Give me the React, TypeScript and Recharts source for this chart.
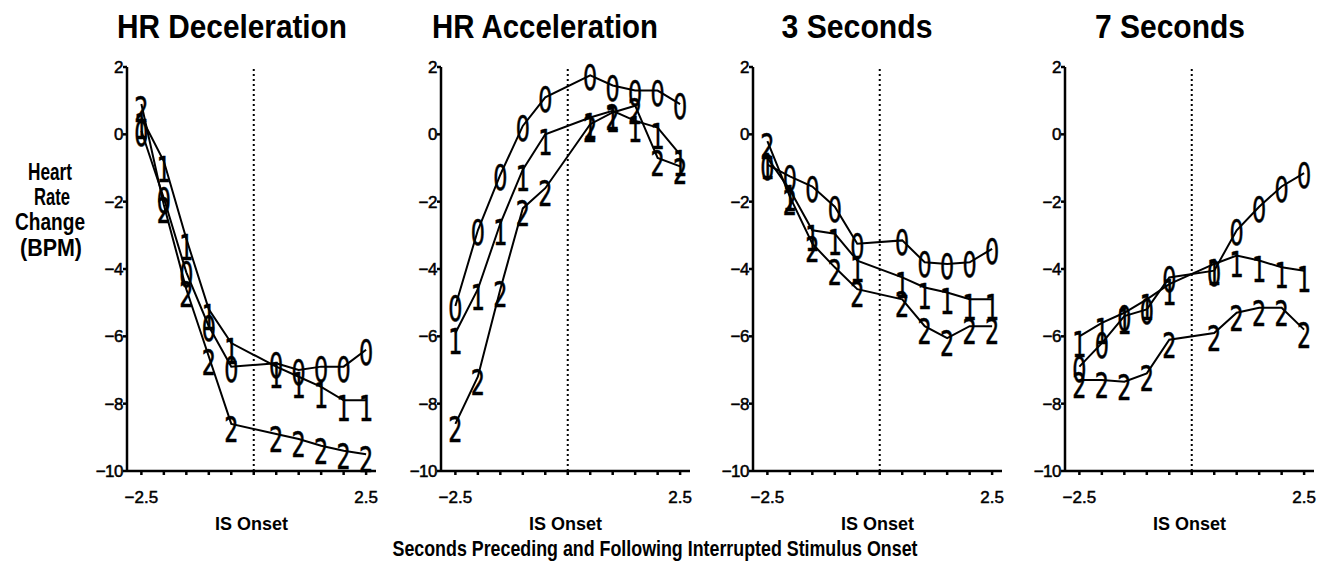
import { LineChart, Line, XAxis, YAxis, ReferenceLine } from 'recharts';

// time points (seconds around interrupted-stimulus onset)
const seconds = [-2.5, -2, -1.5, -1, -0.5, 0.5, 1, 1.5, 2, 2.5];
const xTicks = [-2.5, -2, -1.5, -1, -0.5, 0, 0.5, 1, 1.5, 2, 2.5];
const yTicks = [-10, -8, -6, -4, -2, 0, 2];

const panelTitles = ['HR Deceleration', 'HR Acceleration', '3 Seconds', '7 Seconds'];
const groupDigits = ['0', '1', '2'];

// HR Deceleration
const decel0 = [0.1, -1.9, -4.1, -5.7, -6.9, -6.8, -7.0, -6.9, -6.9, -6.4];
const decel1 = [0.5, -0.8, -3.1, -5.2, -6.2, -6.9, -7.2, -7.5, -7.9, -7.9];
const decel2 = [0.9, -2.1, -4.6, -6.6, -8.6, -8.9, -9.05, -9.25, -9.4, -9.5];

// HR Acceleration
const accel0 = [-5.1, -2.85, -1.2, 0.25, 1.1, 1.75, 1.45, 1.3, 1.3, 0.9];
const accel1 = [-5.9, -4.6, -2.65, -1.05, 0.0, 0.5, 0.7, 0.4, 0.2, -0.6];
const accel2 = [-8.6, -7.2, -4.6, -2.2, -1.6, 0.3, 0.65, 0.85, -0.7, -0.95];

// 3 Seconds
const sec3_0 = [-0.9, -1.25, -1.55, -2.15, -3.25, -3.15, -3.8, -3.85, -3.8, -3.4];
const sec3_1 = [-0.7, -1.65, -2.85, -2.95, -3.75, -4.25, -4.55, -4.7, -4.9, -4.9];
const sec3_2 = [-0.2, -1.85, -3.25, -3.95, -4.6, -4.9, -5.7, -6.05, -5.7, -5.7];

// 7 Seconds
const sec7_0 = [-6.9, -6.2, -5.4, -5.2, -4.25, -4.05, -2.85, -2.15, -1.55, -1.15];
const sec7_1 = [-6.0, -5.6, -5.3, -4.9, -4.45, -3.85, -3.6, -3.75, -3.95, -4.05];
const sec7_2 = [-7.3, -7.3, -7.35, -7.1, -6.1, -5.9, -5.3, -5.15, -5.15, -5.8];

const panelSeries = [
  [decel0, decel1, decel2],
  [accel0, accel1, accel2],
  [sec3_0, sec3_1, sec3_2],
  [sec7_0, sec7_1, sec7_2],
];

const FONT = '"Liberation Sans", Arial, sans-serif';

// layout of each panel on the page
const panelLeft = [67, 381, 693, 1005];
const titleX = [232, 545, 857, 1170];
const titleWidth = [230, 226, 151, 150];

const buildRows = (s: number[][]) =>
  seconds.map((t, i) => ({ t, g0: s[0][i], g1: s[1][i], g2: s[2][i] }));

const baselineShift: Record<string, number> = { '0': 15, '1': 21, '2': 18 };

const digitDot = (digit: string) => (props: any) => {
  const { cx, cy, index } = props;
  if (cx == null || cy == null) return <g key={`d${digit}-${index}`} />;
  return (
    <g key={`d${digit}-${index}`} transform={`translate(${cx},${cy}) scale(0.62,1)`}>
      <text x={0} y={baselineShift[digit]} textAnchor="middle" fontFamily='"DejaVu Sans", sans-serif' fontSize={36} fill="#000" stroke="#000" strokeWidth={0.6}>
        {digit}
      </text>
    </g>
  );
};

const fmtX = (v: number) => (v === -2.5 ? '\u22122.5' : v === 2.5 ? '2.5' : '');
const fmtY = (v: number) => (v < 0 ? `\u2212${Math.abs(v)}` : `${v}`);

const XTick = (props: any) => {
  const { x, y, payload } = props;
  return (
    <text x={x} y={y} dy="0.71em" textAnchor="middle" fontFamily={FONT} fontSize={17} fill="#000" stroke="#000" strokeWidth={0.5}>
      {fmtX(payload.value)}
    </text>
  );
};

const YTick = (props: any) => {
  const { x, y, payload } = props;
  return (
    <text x={x} y={y} dy="0.36em" textAnchor="end" fontFamily={FONT} fontSize={17} fill="#000" stroke="#000" strokeWidth={0.5} letterSpacing={-0.5}>
      {fmtY(payload.value)}
    </text>
  );
};

function Panel({ index }: { index: number }) {
  const rows = buildRows(panelSeries[index]);
  return (
    <div style={{ position: 'absolute', left: panelLeft[index], top: 0 }}>
      <LineChart width={321} height={541} data={rows} margin={{ top: 67, right: 12, bottom: 0, left: 0 }}>
        <XAxis
          dataKey="t"
          type="number"
          domain={[-2.82, 2.72]}
          ticks={xTicks}
          interval={0}
          allowDataOverflow
          tickSize={4}
          tickMargin={16}
          height={70}
          stroke="#000"
          strokeWidth={2.5}
          tick={<XTick />}
          label={{ value: 'IS Onset', position: 'insideBottom', offset: 11, fill: '#000', fontSize: 18, fontWeight: 'bold', fontFamily: FONT }}
        />
        <YAxis
          type="number"
          domain={[-10, 2]}
          ticks={yTicks}
          interval={0}
          width={60}
          tickSize={4}
          tickMargin={0}
          stroke="#000"
          strokeWidth={2.5}
          tick={<YTick />}
        />
        <ReferenceLine x={0} stroke="#000" strokeWidth={2} strokeDasharray="2 3" />
        {groupDigits.map((d) => (
          <Line
            key={d}
            dataKey={`g${d}`}
            type="linear"
            stroke="#000"
            strokeWidth={2}
            dot={digitDot(d)}
            activeDot={false}
            isAnimationActive={false}
          />
        ))}
      </LineChart>
    </div>
  );
}

export default function App() {
  return (
    <div style={{ position: 'absolute', left: 0, top: 0, width: 1321, height: 570, background: '#fff', fontFamily: FONT }}>
      {panelTitles.map((_, i) => (
        <Panel key={i} index={i} />
      ))}
      <svg width={1321} height={570} style={{ position: 'absolute', left: 0, top: 0, pointerEvents: 'none' }}>
        {panelTitles.map((t, i) => (
          <text
            key={t}
            x={titleX[i]}
            y={38}
            textAnchor="middle"
            fontFamily={FONT}
            fontWeight="bold"
            fontSize={34}
            textLength={titleWidth[i]}
            lengthAdjust="spacingAndGlyphs"
            fill="#000"
          >
            {t}
          </text>
        ))}
        <g fontFamily={FONT} fontWeight="bold" fontSize={23} fill="#000" textAnchor="middle">
          <text x={50} y={180} textLength={44} lengthAdjust="spacingAndGlyphs">Heart</text>
          <text x={52} y={205} textLength={36} lengthAdjust="spacingAndGlyphs">Rate</text>
          <text x={50} y={230} textLength={70} lengthAdjust="spacingAndGlyphs">Change</text>
          <text x={51} y={256} textLength={62} lengthAdjust="spacingAndGlyphs">(BPM)</text>
        </g>
        <text
          x={655}
          y={556}
          textAnchor="middle"
          fontFamily={FONT}
          fontWeight="bold"
          fontSize={22}
          textLength={525}
          lengthAdjust="spacingAndGlyphs"
          fill="#000"
        >
          Seconds Preceding and Following Interrupted Stimulus Onset
        </text>
      </svg>
    </div>
  );
}
